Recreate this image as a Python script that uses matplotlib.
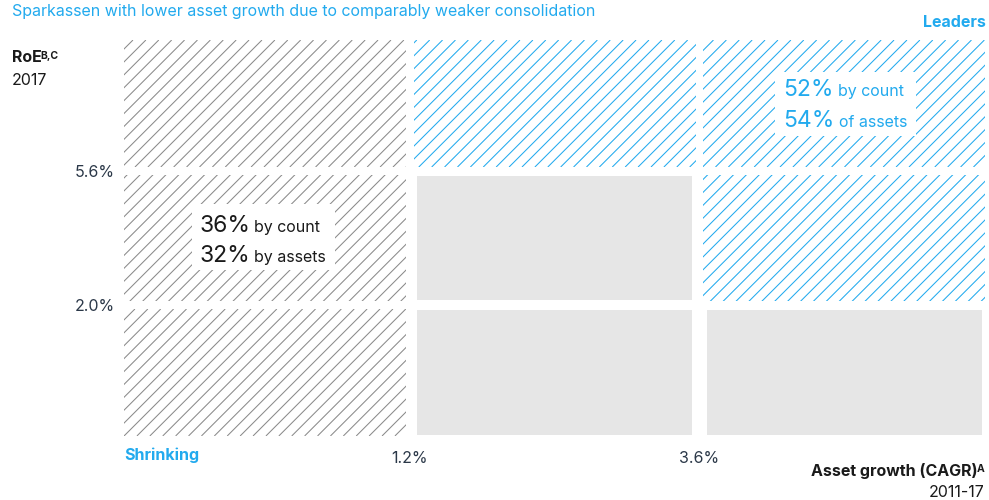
import numpy as np
import matplotlib.pyplot as plt
from matplotlib.patches import Rectangle
from matplotlib.collections import LineCollection

plt.rcParams['font.family'] = ['Inter', 'DejaVu Sans']

BLUE = '#22aaee'
GREY_HATCH = '#8a8a8a'
GREY_FILL = '#e6e6e6'
DARK = '#1a1a1a'
TICK = '#2b3848'

# bucket boundaries
growth_cuts = ['1.2%', '3.6%']
roe_cuts = ['2.0%', '5.6%']

# cell type per row (bottom -> top) and column (low -> high asset growth)
cells = [
    ['shrink', 'other', 'other'],
    ['shrink', 'other', 'leader'],
    ['shrink', 'leader', 'leader'],
]

shrink_count, shrink_assets = 36, 32
leader_count, leader_assets = 52, 54

W, H = 989, 500
fig = plt.figure(figsize=(W / 100, H / 100), dpi=100)

# grid area in pixels
gx0, gx1, gy0, gy1 = 120.3, 988.8, 36.3, 439.7
ax = fig.add_axes([gx0 / W, 1 - gy1 / H, (gx1 - gx0) / W, (gy1 - gy0) / H])
ax.set_xlim(0, 3)
ax.set_ylim(0, 3)
SX = (gx1 - gx0) / 3   # pixels per data unit
SY = (gy1 - gy0) / 3

GAP = 3.75    # half gap between cells, px
INSET = 3.5   # extra inset for plain cells, px
STEP = 12.9   # hatch spacing, px


def hatch(x0, y0, w, h, color):
    rect = Rectangle((x0, y0), w, h, fill=False, lw=0)
    ax.add_patch(rect)
    X0, X1 = x0 * SX, (x0 + w) * SX
    Y0, Y1 = y0 * SY, (y0 + h) * SY
    ks = np.arange(np.floor((X0 - Y1) / STEP), np.ceil((X1 - Y0) / STEP) + 1)
    segs = []
    for k in ks:
        c = k * STEP
        segs.append([((c + Y0) / SX, y0), ((c + Y1) / SX, y0 + h)])
    lc = LineCollection(segs, colors=color, linewidths=0.75, capstyle='butt')
    ax.add_collection(lc)
    lc.set_clip_path(rect)


for r, row in enumerate(cells):
    for c, kind in enumerate(row):
        gx, gy = GAP / SX, GAP / SY
        if kind == 'other':
            ix, iy = INSET / SX, 1.2 / SY
            ax.add_patch(Rectangle((c + gx + ix, r + gy + iy), 1 - 2 * (gx + ix), 1 - 2 * (gy + iy),
                                   facecolor=GREY_FILL, edgecolor='none'))
        else:
            hatch(c + gx, r + gy, 1 - 2 * gx, 1 - 2 * gy,
                  GREY_HATCH if kind == 'shrink' else BLUE)


def share_box(box, x, y1, y2, big, small, color):
    ax.add_patch(Rectangle(box[:2], box[2], box[3], facecolor='white', edgecolor='none', zorder=3))
    for y, b, s in [(y1, big[0], small[0]), (y2, big[1], small[1])]:
        t = ax.text(x, y, f'{b}%', fontsize=16.5, color=color, va='baseline', ha='left', zorder=4)
        ax.annotate(s, xy=(1, y), xycoords=(t, 'data'), xytext=(3, 0), textcoords='offset points',
                    fontsize=11.5, color=color, va='baseline', ha='left', zorder=4)


share_box((0.248, 1.262, 0.494, 0.491), 0.272, 1.547, 1.324,
          (shrink_count, shrink_assets), ('by count', 'by assets'), DARK)
share_box((2.261, 2.259, 0.488, 0.475), 2.289, 2.556, 2.328,
          (leader_count, leader_assets), ('by count', 'of assets'), BLUE)

ax.set_xticks([1, 2], growth_cuts)
ax.set_yticks([1, 2], roe_cuts)
ax.tick_params(length=0, labelsize=11.5, labelcolor=TICK)
ax.tick_params(axis='x', pad=8)
ax.tick_params(axis='y', pad=4)
for s in ax.spines.values():
    s.set_visible(False)


def px(x, y):
    return x / W, 1 - y / H


fig.text(*px(12, 15.7), 'Sparkassen with lower asset growth due to comparably weaker consolidation',
         fontsize=11.5, color=BLUE, va='baseline')
fig.text(*px(986, 26.7), 'Leaders', fontsize=11.5, color=BLUE, fontweight='bold', ha='right', va='baseline')
fig.text(*px(124, 460), 'Shrinking', fontsize=11.5, color=BLUE, fontweight='bold', va='baseline')

roe = fig.text(*px(12, 61.7), 'RoE', fontsize=11.5, color=DARK, fontweight='bold', va='baseline')
fig.text(*px(12, 85), '2017', fontsize=11.5, color=DARK, va='baseline')
ax.annotate('B,C', xy=(1, 1), xycoords=roe, xytext=(-1, -1), textcoords='offset points',
            fontsize=7.5, fontweight='bold', color=DARK, va='top', ha='left')

ag = fig.text(*px(978, 476), 'Asset growth (CAGR)', fontsize=11.5, color=DARK, fontweight='bold',
              ha='right', va='baseline')
ax.annotate('A', xy=(1, 1), xycoords=ag, xytext=(-1, -1), textcoords='offset points',
            fontsize=7.5, fontweight='bold', color=DARK, va='top', ha='left')
fig.text(*px(984, 496.7), '2011-17', fontsize=11.5, color=DARK, ha='right', va='baseline')

fig.savefig('out.png', dpi=100)
